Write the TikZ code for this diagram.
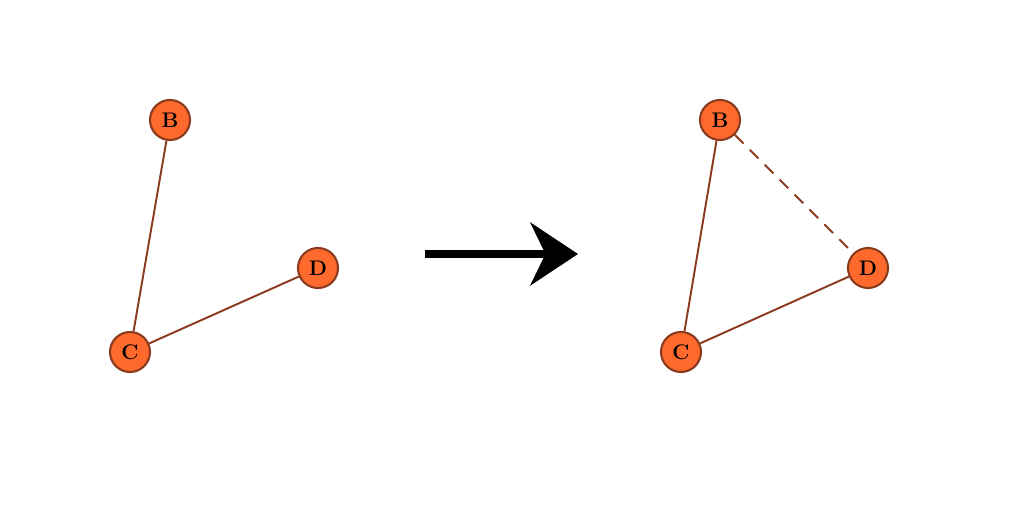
\documentclass[tikz,border=0pt]{standalone}
\usetikzlibrary{arrows.meta}
\definecolor{nodefill}{HTML}{FF6A2C}
\definecolor{edgebrown}{HTML}{8B3A1E}
\tikzstyle{vertex}=[circle, minimum size=0.8cm, fill=nodefill, draw=edgebrown, line width=1.2pt, inner sep=0pt, font=\large\bfseries]
\tikzstyle{link}=[draw=edgebrown, line width=1.1pt]

\begin{document}
\begin{tikzpicture}[dashlink/.style = {link, dash pattern=on 7pt off 5pt}]
    \useasboundingbox (0,0) rectangle (20.48,10.24);
    % before
    \node (B1) [vertex] at (3.4,7.84) {B};
    \node (C1) [vertex] at (2.6,3.2) {C};
    \node (D1) [vertex] at (6.36,4.88) {D};
    % after
    \node (B2) [vertex] at (14.4,7.84) {B};
    \node (C2) [vertex] at (13.62,3.2) {C};
    \node (D2) [vertex] at (17.36,4.88) {D};

    \path[link]
    (B1) edge (C1)
    (C1) edge (D1)
    (B2) edge (C2)
    (C2) edge (D2);
    \path (B2) edge[dashlink] (D2);

    \coordinate (from) at (8.5,5.16);
    \coordinate (to) at (11.56,5.16);
    \draw[line width=5pt, -{Stealth[length=0.95cm, width=1.25cm, inset=0.3cm]}] (from) -- (to);
  \end{tikzpicture}
\end{document}
